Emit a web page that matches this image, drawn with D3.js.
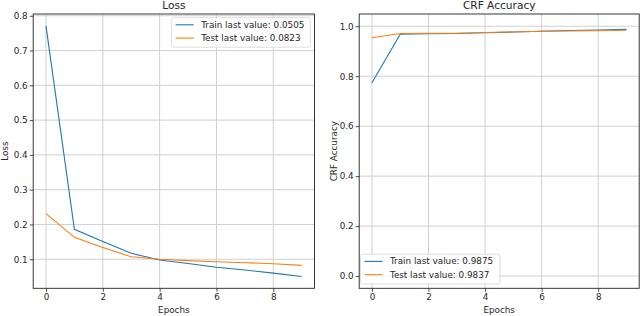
<!DOCTYPE html>
<html lang="en">
<head>
  <meta charset="utf-8">
  <title>Loss / CRF Accuracy</title>
  <style>
    body { margin: 0; background: #fff; }
    svg text { font-family: "DejaVu Sans", sans-serif; fill: #262626; }
  </style>
</head>
<body>
  <div id="chart"></div>
  <script src="https://d3js.org/d3.v7.min.js"></script>
  <script>
    // values
    var epochs = [0, 1, 2, 3, 4, 5, 6, 7, 8, 9];
    var trainLoss = [0.771, 0.186, 0.151, 0.117, 0.098, 0.088, 0.077, 0.069, 0.060, 0.0505];
    var testLoss = [0.231, 0.163, 0.134, 0.107, 0.100, 0.096, 0.093, 0.090, 0.087, 0.0823];
    var trainAcc = [0.774, 0.968, 0.970, 0.971, 0.974, 0.977, 0.980, 0.983, 0.985, 0.9875];
    var testAcc = [0.954, 0.971, 0.972, 0.972, 0.975, 0.977, 0.980, 0.981, 0.982, 0.9837];
    var xTicks = [0, 2, 4, 6, 8];
    var lossTicks = [0.1, 0.2, 0.3, 0.4, 0.5, 0.6, 0.7, 0.8];
    var accTicks = [0.0, 0.2, 0.4, 0.6, 0.8, 1.0];

    var w = 640, h = 316;
    var blue = "#1f77b4", orange = "#ff7f0e";

    var svg = d3.select("#chart").append("svg")
      .attr("width", w).attr("height", h);

    function panel(opt) {
      var x = d3.scaleLinear().domain([-0.45, 9.45]).range([opt.left, opt.right]);
      var y = d3.scaleLinear().domain(opt.yDomain).range([opt.bottom, opt.top]);
      var g = svg.append("g");

      // grid
      g.selectAll(".gx").data(xTicks).enter().append("line")
        .attr("x1", d => x(d)).attr("x2", d => x(d))
        .attr("y1", opt.top).attr("y2", opt.bottom)
        .attr("stroke", "#d0d0d0").attr("stroke-width", 1);
      g.selectAll(".gy").data(opt.yTicks).enter().append("line")
        .attr("x1", opt.left).attr("x2", opt.right)
        .attr("y1", d => y(d)).attr("y2", d => y(d))
        .attr("stroke", "#d0d0d0").attr("stroke-width", 1);

      // series
      var line = d3.line().x((d, i) => x(epochs[i])).y(d => y(d));
      g.append("path").datum(opt.train).attr("d", line)
        .attr("fill", "none").attr("stroke", blue).attr("stroke-width", 1.1);
      g.append("path").datum(opt.test).attr("d", line)
        .attr("fill", "none").attr("stroke", orange).attr("stroke-width", 1.1);

      // axes
      var xAxis = d3.axisBottom(x).tickValues(xTicks).tickSize(3.5).tickPadding(2).tickFormat(d3.format("d"));
      var yAxis = d3.axisLeft(y).tickValues(opt.yTicks).tickSize(3.5).tickPadding(2).tickFormat(d3.format(".1f"));
      var gx = g.append("g").attr("transform", "translate(0," + opt.bottom + ")").call(xAxis);
      var gy = g.append("g").attr("transform", "translate(" + opt.left + ",0)").call(yAxis);
      [gx, gy].forEach(a => {
        a.select(".domain").remove();
        a.selectAll("line").attr("stroke", "#222").attr("stroke-width", 0.8);
        a.selectAll("text").style("font-size", "8.8px").attr("fill", "#262626");
      });

      // frame
      g.append("rect").attr("x", opt.left).attr("y", opt.top)
        .attr("width", opt.right - opt.left).attr("height", opt.bottom - opt.top)
        .attr("fill", "none").attr("stroke", "#222").attr("stroke-width", 0.9);

      // titles
      g.append("text").attr("x", (opt.left + opt.right) / 2).attr("y", 8.6)
        .attr("text-anchor", "middle").style("font-size", "10.6px").text(opt.title);
      g.append("text").attr("x", (opt.left + opt.right) / 2).attr("y", 313)
        .attr("text-anchor", "middle").style("font-size", "8.8px").text("Epochs");
      g.append("text")
        .attr("transform", "translate(" + opt.ylabelX + "," + ((opt.top + opt.bottom) / 2) + ") rotate(-90)")
        .attr("text-anchor", "middle").style("font-size", "8.8px").text(opt.ylabel);

      // legend
      var L = opt.legend;
      g.append("rect").attr("x", L.x).attr("y", L.y).attr("width", L.w).attr("height", L.h)
        .attr("rx", 2).attr("fill", "#fff").attr("fill-opacity", 0.85)
        .attr("stroke", "#d5d5d5").attr("stroke-width", 0.8);
      var items = [
        { c: blue, t: "Train last value: " + opt.train[opt.train.length - 1].toFixed(4) },
        { c: orange, t: "Test last value: " + opt.test[opt.test.length - 1].toFixed(4) }
      ];
      items.forEach((it, i) => {
        var by = L.y + 10.2 + i * 13.3;
        g.append("line").attr("x1", L.x + 4).attr("x2", L.x + 22)
          .attr("y1", by - 3).attr("y2", by - 3)
          .attr("stroke", it.c).attr("stroke-width", 1.1);
        g.append("text").attr("x", L.x + 29.5).attr("y", by)
          .style("font-size", "8.8px").text(it.t);
      });
    }

    panel({
      left: 33.2, right: 314.5, top: 14, bottom: 288.3,
      yDomain: [0.0165, 0.805], yTicks: lossTicks,
      train: trainLoss, test: testLoss,
      title: "Loss", ylabel: "Loss", ylabelX: 7.5,
      legend: { x: 171.7, y: 17.6, w: 138.6, h: 29.6 }
    });

    panel({
      left: 359.2, right: 639.2, top: 14, bottom: 288.3,
      yDomain: [-0.049, 1.049], yTicks: accTicks,
      train: trainAcc, test: testAcc,
      title: "CRF Accuracy", ylabel: "CRF Accuracy", ylabelX: 336.5,
      legend: { x: 360.5, y: 254.2, w: 139.5, h: 29.8 }
    });
  </script>
</body>
</html>
